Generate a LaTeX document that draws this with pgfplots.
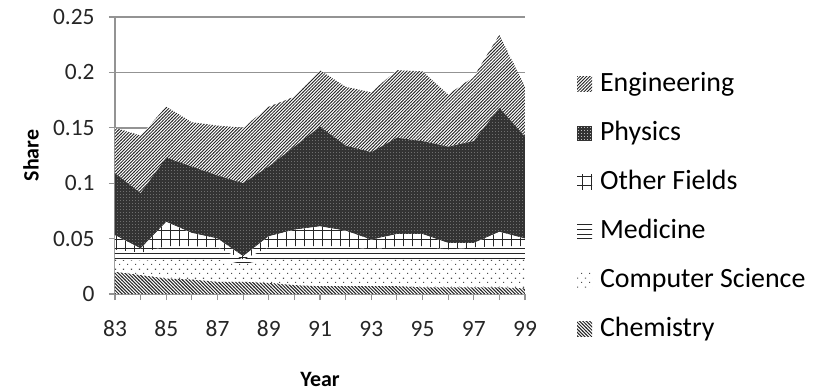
\documentclass[border=0pt]{standalone}
\usepackage{fontspec}
\setmainfont{Carlito}
\usepackage{pgfplots}
\pgfplotsset{compat=1.18}
\usepackage{pgfplotstable}
\usetikzlibrary{patterns}

% fine fill patterns in the style of spreadsheet area charts
\pgfdeclarepatternformonly{fineNE}{\pgfqpoint{-1pt}{-1pt}}{\pgfqpoint{2.6pt}{2.6pt}}{\pgfqpoint{1.6pt}{1.6pt}}{%
  \pgfsetlinewidth{0.42pt}%
  \pgfpathmoveto{\pgfqpoint{-0.1pt}{-0.1pt}}%
  \pgfpathlineto{\pgfqpoint{1.7pt}{1.7pt}}%
  \pgfusepath{stroke}}
\pgfdeclarepatternformonly{fineNW}{\pgfqpoint{-1pt}{-1pt}}{\pgfqpoint{2.6pt}{2.6pt}}{\pgfqpoint{1.7pt}{1.7pt}}{%
  \pgfsetlinewidth{0.5pt}%
  \pgfpathmoveto{\pgfqpoint{-0.1pt}{1.8pt}}%
  \pgfpathlineto{\pgfqpoint{1.8pt}{-0.1pt}}%
  \pgfusepath{stroke}}
\pgfdeclarepatternformonly{wideGrid}{\pgfqpoint{-0.5pt}{-0.5pt}}{\pgfqpoint{5pt}{5pt}}{\pgfqpoint{4.5pt}{4.5pt}}{%
  \pgfsetlinewidth{0.5pt}%
  \pgfpathmoveto{\pgfqpoint{-0.1pt}{0pt}}\pgfpathlineto{\pgfqpoint{4.6pt}{0pt}}%
  \pgfpathmoveto{\pgfqpoint{0pt}{-0.1pt}}\pgfpathlineto{\pgfqpoint{0pt}{4.6pt}}%
  \pgfusepath{stroke}}
\pgfdeclarepatternformonly{hLines}{\pgfqpoint{-0.5pt}{-0.5pt}}{\pgfqpoint{4.5pt}{3pt}}{\pgfqpoint{4pt}{2.4pt}}{%
  \pgfsetlinewidth{0.5pt}%
  \pgfpathmoveto{\pgfqpoint{-0.1pt}{0pt}}\pgfpathlineto{\pgfqpoint{4.1pt}{0pt}}%
  \pgfusepath{stroke}}
\pgfdeclarepatternformonly{sparseDots}{\pgfqpoint{0pt}{0pt}}{\pgfqpoint{4pt}{4.6pt}}{\pgfqpoint{4pt}{4.6pt}}{%
  \pgfpathrectangle{\pgfqpoint{0pt}{0pt}}{\pgfqpoint{0.55pt}{0.55pt}}%
  \pgfpathrectangle{\pgfqpoint{2pt}{2.3pt}}{\pgfqpoint{0.55pt}{0.55pt}}%
  \pgfusepath{fill}}
\pgfdeclarepatternformonly{tightDots}{\pgfqpoint{0pt}{0pt}}{\pgfqpoint{1.25pt}{1.25pt}}{\pgfqpoint{1.25pt}{1.25pt}}{%
  \pgfpathrectangle{\pgfqpoint{0pt}{0pt}}{\pgfqpoint{0.45pt}{0.45pt}}%
  \pgfusepath{fill}}

% share of each field per year (stacked from the bottom)
\pgfplotstableread{
year chem  cs    med   oth   phys  eng
83   0.020 0.011 0.009 0.013 0.056 0.041
84   0.017 0.013 0.007 0.004 0.050 0.052
85   0.014 0.017 0.012 0.022 0.058 0.046
86   0.013 0.018 0.012 0.012 0.060 0.040
87   0.011 0.020 0.011 0.008 0.057 0.045
88   0.011 0.016 0.004 0.003 0.066 0.050
89   0.010 0.021 0.011 0.010 0.063 0.054
90   0.008 0.023 0.012 0.015 0.075 0.045
91   0.007 0.024 0.012 0.018 0.090 0.051
92   0.007 0.024 0.012 0.014 0.077 0.053
93   0.007 0.023 0.010 0.009 0.079 0.054
94   0.007 0.024 0.012 0.011 0.087 0.061
95   0.006 0.025 0.012 0.011 0.084 0.063
96   0.006 0.024 0.010 0.006 0.087 0.047
97   0.006 0.025 0.011 0.004 0.092 0.058
98   0.006 0.025 0.012 0.013 0.112 0.066
99   0.005 0.026 0.012 0.007 0.092 0.045
}\shares

\begin{document}
\begin{tikzpicture}
\path[use as bounding box] (-57.5bp,-49bp) rectangle (350.5bp,147bp);
\begin{axis}[
  at={(0,0)}, anchor=south west,
  scale only axis, width=205bp, height=138.5bp,
  xmin=83, xmax=99, ymin=0, ymax=0.25,
  axis lines=left,
  axis line style={-, draw=gray!85, line width=0.8bp},
  tick align=outside,
  xtick={83,85,...,99}, minor xtick={84,86,...,98},
  ytick={0,0.05,0.1,0.15,0.2,0.25},
  major tick length=3bp, minor tick length=3bp,
  tick style={draw=gray!85, line width=0.6bp},
  ymajorgrids, grid style={draw=gray!85, line width=0.8bp},
  scaled y ticks=false,
  /pgf/number format/assume math mode=true,
  yticklabel style={/pgf/number format/fixed, /pgf/number format/precision=2},
  tick label style={font=\fontsize{11.75}{12}\selectfont, text=black!85},
  xticklabel style={anchor=center, yshift=-14.5bp},
  yticklabel style={anchor=east, inner sep=0pt, xshift=-7bp},
  xlabel={Year}, ylabel={Share},
  label style={font=\bfseries\fontsize{11}{12}\selectfont},
  xlabel style={at={(axis description cs:0.5,-0.31)}, anchor=center},
  ylabel style={at={(axis description cs:-0.205,0.5)}, anchor=center},
  stack plots=y,
  reverse legend,
  legend image code/.code={\path[#1] (0bp,-3.75bp) rectangle (7.5bp,3.75bp);},
  legend style={
    at={(axis description cs:1.126,0.805)}, anchor=north west,
    draw=none, fill=none, inner sep=0pt,
    font=\fontsize{14}{16}\selectfont,
    row sep=11.5bp, column sep=4bp,
    nodes={inner sep=0pt, text height=10bp, text depth=3bp},
  },
  legend cell align=left,
  every axis plot/.append style={draw=none, mark=none},
]
\addplot[fill=white, postaction={pattern=fineNW, pattern color=black!85}]
  table[x=year, y=chem]{\shares} \closedcycle;
\addplot[fill=white, postaction={pattern=sparseDots, pattern color=black!70}]
  table[x=year, y=cs]{\shares} \closedcycle;
\addplot[fill=white, postaction={pattern=hLines, pattern color=black!85}]
  table[x=year, y=med]{\shares} \closedcycle;
\addplot[fill=white, postaction={pattern=wideGrid, pattern color=black!85}]
  table[x=year, y=oth]{\shares} \closedcycle;
\addplot[fill=black!80, postaction={pattern=tightDots, pattern color=white!75!black}]
  table[x=year, y=phys]{\shares} \closedcycle;
\addplot[fill=white, postaction={pattern=fineNE, pattern color=black!85}]
  table[x=year, y=eng]{\shares} \closedcycle;
\legend{Chemistry, Computer Science, Medicine, {Other Fields}, Physics, Engineering}
\end{axis}
\end{tikzpicture}
\end{document}
